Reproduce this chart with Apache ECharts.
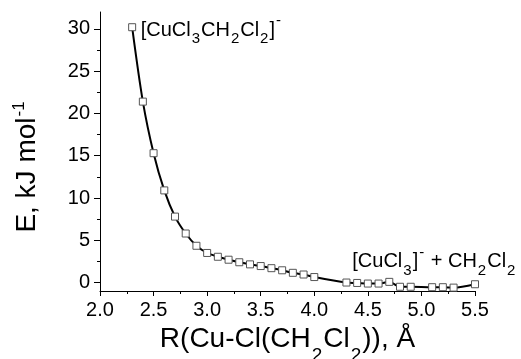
<!DOCTYPE html>
<html>
<head>
<meta charset="utf-8">
<script src="https://cdn.jsdelivr.net/npm/echarts@6/dist/echarts.min.js"></script>
<style>
    html, body { margin: 0; padding: 0; background: #fff; }
    #chart { width: 521px; height: 359px; }
</style>
</head>
<body>
<div id="chart"></div>
<script>
    // Cu-Cl distance (Å) and energy (kJ/mol)
    var distance = [2.3, 2.4, 2.5, 2.6, 2.7, 2.8, 2.9, 3.0, 3.1, 3.2, 3.3, 3.4, 3.5, 3.6, 3.7,
        3.8, 3.9, 4.0, 4.3, 4.4, 4.5, 4.6, 4.7, 4.8, 4.9, 5.1, 5.2, 5.3, 5.5];
    var energy = [30.2, 21.4, 15.3, 10.9, 7.8, 5.8, 4.35, 3.5, 3.05, 2.7, 2.4, 2.15, 1.95, 1.7, 1.45,
        1.15, 0.95, 0.65, 0.0, -0.05, -0.12, -0.12, 0.08, -0.5, -0.5, -0.55, -0.55, -0.6, -0.2];
    var yMajorTicks = [0, 5, 10, 15, 20, 25, 30];
    var yMinorTicks = [2.5, 7.5, 12.5, 17.5, 22.5, 27.5];
    // where the two species labels sit, in data units
    var complexLabelAt = [2.3, 30.2];
    var dissociatedLabelAt = [4.35, 2.45];

    var font = "'Liberation Sans', Arial, sans-serif";
    var points = distance.map(function (x, i) { return [x, energy[i]]; });

    // sub/superscripts for the formulas (shift = padding that moves them off the middle)
    function scripts(size, shift) {
        return {
            sub: { fontSize: size, fontFamily: font, color: '#000', padding: [shift, 1, 0, 1] },
            sup: { fontSize: size, fontFamily: font, color: '#000', padding: [0, 1, shift, 1] }
        };
    }

    var myChart = echarts.init(document.getElementById('chart'));
    myChart.setOption({
        animation: false,
        grid: { left: 100, right: 46, top: 12, bottom: 68, outerBoundsMode: 'none' },
        xAxis: {
            type: 'value',
            min: 2, max: 5.5, interval: 0.5,
            name: 'R(Cu-Cl(CH{sub|2}Cl{sub|2})), Å',
            nameLocation: 'middle',
            nameGap: 20,
            nameTextStyle: {
                fontSize: 28, fontFamily: font, color: '#000',
                rich: scripts(19, 34)
            },
            axisLine: { onZero: false, lineStyle: { color: '#000', width: 1 } },
            axisTick: { length: 5, lineStyle: { color: '#000' } },
            minorTick: { show: true, splitNumber: 2, length: 3, lineStyle: { color: '#000' } },
            axisLabel: {
                fontSize: 20, fontFamily: font, color: '#000', margin: 9,
                formatter: function (v) { return v.toFixed(1); }
            },
            splitLine: { show: false }
        },
        yAxis: [{
            type: 'value',
            min: -1, max: 32,
            name: 'E, kJ mol{sup|-1}',
            nameLocation: 'middle',
            nameGap: 57,
            nameTextStyle: {
                fontSize: 28, fontFamily: font, color: '#000',
                padding: [0, 30, 0, 0],
                rich: scripts(17, 15)
            },
            axisLine: { onZero: false, lineStyle: { color: '#000', width: 1 } },
            axisTick: { length: 6, customValues: yMajorTicks, lineStyle: { color: '#000' } },
            axisLabel: {
                fontSize: 20, fontFamily: font, color: '#000', margin: 10,
                customValues: yMajorTicks
            },
            splitLine: { show: false }
        }, {
            // only carries the minor ticks of the left axis
            type: 'value',
            min: -1, max: 32,
            position: 'left',
            axisLine: { show: false, onZero: false },
            axisTick: { length: 3, customValues: yMinorTicks, lineStyle: { color: '#000' } },
            axisLabel: { show: false },
            splitLine: { show: false }
        }],
        series: [{
            type: 'line',
            data: points,
            smooth: 0.3,
            symbol: 'rect',
            symbolSize: 7,
            showAllSymbol: true,
            lineStyle: { color: '#000', width: 2 },
            itemStyle: { color: '#fff', borderColor: '#555', borderWidth: 1 },
            markPoint: {
                symbol: 'rect',
                symbolSize: 1,
                itemStyle: { color: 'rgba(0,0,0,0)' },
                label: {
                    show: true,
                    position: 'right',
                    fontSize: 20, fontFamily: font, color: '#000',
                    rich: scripts(15, 18)
                },
                data: [
                    { coord: complexLabelAt, label: { formatter: '[CuCl{sub|3}CH{sub|2}Cl{sub|2}]{sup|-}', distance: 8, offset: [0, 3] } },
                    { coord: dissociatedLabelAt, label: { formatter: '[CuCl{sub|3}]{sup|-} + CH{sub|2}Cl{sub|2}', distance: 0 } }
                ]
            }
        }]
    });
</script>
</body>
</html>
